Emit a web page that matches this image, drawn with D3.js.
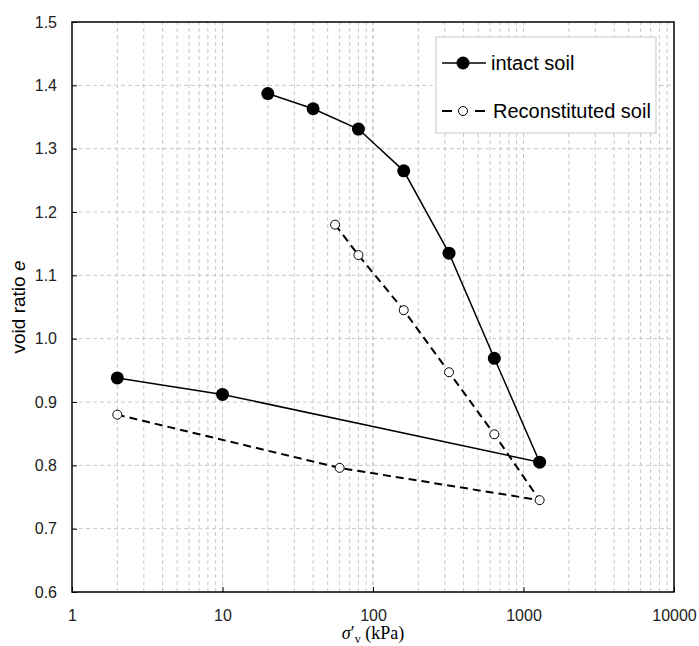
<!DOCTYPE html>
<html>
<head>
<meta charset="utf-8">
<script src="https://cdn.jsdelivr.net/npm/d3@7"></script>
<style>
body { margin: 0; background: #fff; }
text { font-family: "Liberation Sans", Arial, sans-serif; }
</style>
</head>
<body>
<div class="chart"></div>
<script>
var width = 699, height = 646;
var margin = {top: 22, right: 25, bottom: 54, left: 72};

// intact soil: loading then unloading
var intactStress = [20, 40, 80, 160, 320, 640, 1280, 10, 2];
var intactVoid = [1.387, 1.363, 1.331, 1.265, 1.135, 0.969, 0.805, 0.912, 0.938];

// reconstituted soil
var reconStress = [56, 80, 160, 320, 640, 1280, 60, 2];
var reconVoid = [1.180, 1.132, 1.045, 0.947, 0.849, 0.745, 0.796, 0.880];

var xTicks = [1, 10, 100, 1000, 10000];
var yTicks = [0.6, 0.7, 0.8, 0.9, 1.0, 1.1, 1.2, 1.3, 1.4, 1.5];

var svg = d3.select(".chart").append("svg")
    .attr("width", width)
    .attr("height", height);

var x = d3.scaleLog().domain([1, 10000]).range([margin.left, width - margin.right]);
var y = d3.scaleLinear().domain([0.6, 1.5]).range([height - margin.bottom, margin.top]);

// grid
var minor = [];
[1, 10, 100, 1000].forEach(function(d) {
  for (var k = 1; k <= 10; k++) minor.push(d * k);
});
svg.append("g").selectAll("line")
  .data(minor.filter(function(d) { return d > 1 && d < 10000; }))
  .enter().append("line")
    .attr("x1", function(d) { return x(d); })
    .attr("x2", function(d) { return x(d); })
    .attr("y1", y(0.6)).attr("y2", y(1.5))
    .attr("stroke", "#c8c8c8").attr("stroke-width", 1)
    .attr("stroke-dasharray", "4,3");
svg.append("g").selectAll("line")
  .data(yTicks.slice(1, -1))
  .enter().append("line")
    .attr("x1", x(1)).attr("x2", x(10000))
    .attr("y1", function(d) { return y(d); })
    .attr("y2", function(d) { return y(d); })
    .attr("stroke", "#c8c8c8").attr("stroke-width", 1)
    .attr("stroke-dasharray", "4,3");

// axes
var xAxis = d3.axisBottom(x).tickValues(xTicks).tickSize(-5).tickPadding(18)
  .tickFormat(d3.format("d"));
var yAxis = d3.axisLeft(y).tickValues(yTicks).tickSize(-5).tickPadding(15)
  .tickFormat(d3.format(".1f"));

var gx = svg.append("g").attr("transform", "translate(0," + y(0.6) + ")").call(xAxis);
var gy = svg.append("g").attr("transform", "translate(" + x(1) + ",0)").call(yAxis);
[gx, gy].forEach(function(g) {
  g.select(".domain").remove();
  g.selectAll("line").attr("stroke", "#000");
  g.selectAll("text").attr("font-size", 16).attr("fill", "#222")
    .style("font-family", "Liberation Sans, Arial, sans-serif");
});

svg.append("rect")
  .attr("x", x(1)).attr("y", y(1.5))
  .attr("width", x(10000) - x(1)).attr("height", y(0.6) - y(1.5))
  .attr("fill", "none").attr("stroke", "#000").attr("stroke-width", 1.5);

// series
var line = d3.line()
  .x(function(d) { return x(d[0]); })
  .y(function(d) { return y(d[1]); });

var intact = d3.zip(intactStress, intactVoid);
var recon = d3.zip(reconStress, reconVoid);

svg.append("path").datum(recon).attr("d", line)
  .attr("fill", "none").attr("stroke", "#000").attr("stroke-width", 2)
  .attr("stroke-dasharray", "8,5");
svg.append("path").datum(intact).attr("d", line)
  .attr("fill", "none").attr("stroke", "#000").attr("stroke-width", 1.5);

svg.append("g").selectAll("circle").data(intact).enter().append("circle")
  .attr("cx", function(d) { return x(d[0]); })
  .attr("cy", function(d) { return y(d[1]); })
  .attr("r", 6.5).attr("fill", "#000");
svg.append("g").selectAll("circle").data(recon).enter().append("circle")
  .attr("cx", function(d) { return x(d[0]); })
  .attr("cy", function(d) { return y(d[1]); })
  .attr("r", 4.5).attr("fill", "#fff").attr("stroke", "#000").attr("stroke-width", 1);

// legend
var lg = svg.append("g").attr("transform", "translate(436,37)");
lg.append("rect").attr("width", 220).attr("height", 96)
  .attr("fill", "#fff").attr("stroke", "#c8c8c8");
lg.append("line").attr("x1", 6).attr("x2", 50).attr("y1", 26).attr("y2", 26)
  .attr("stroke", "#000").attr("stroke-width", 1.5);
lg.append("circle").attr("cx", 27).attr("cy", 26).attr("r", 6.5).attr("fill", "#000");
lg.append("text").attr("x", 55).attr("y", 33).attr("font-size", 20).text("intact soil");
lg.append("line").attr("x1", 6).attr("x2", 50).attr("y1", 74).attr("y2", 74)
  .attr("stroke", "#000").attr("stroke-width", 2).attr("stroke-dasharray", "10,23");
lg.append("circle").attr("cx", 27).attr("cy", 74).attr("r", 4.5)
  .attr("fill", "#fff").attr("stroke", "#000");
lg.append("text").attr("x", 57).attr("y", 81).attr("font-size", 20).text("Reconstituted soil");

// axis titles
svg.append("text")
  .attr("transform", "translate(25," + ((y(0.6) + y(1.5)) / 2) + ") rotate(-90)")
  .attr("text-anchor", "middle").attr("font-size", 19)
  .html('void ratio <tspan font-style="italic">e</tspan>');

var xt = svg.append("text")
  .attr("x", (x(1) + x(10000)) / 2).attr("y", 639)
  .attr("text-anchor", "middle").attr("font-size", 18)
  .style("font-family", "Liberation Serif, Times New Roman, serif");
xt.append("tspan").attr("font-style", "italic").text("σ");
xt.append("tspan").text("′");
xt.append("tspan").attr("font-size", 12).attr("dy", 4).text("v");
xt.append("tspan").attr("dy", -4).text(" (kPa)");
</script>
</body>
</html>
